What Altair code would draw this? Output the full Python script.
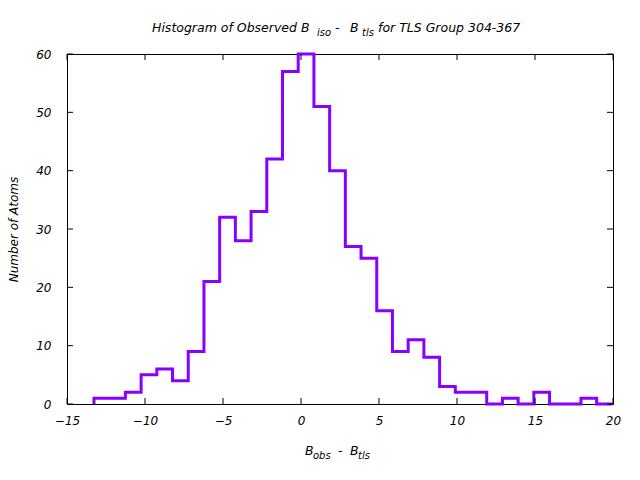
import altair as alt
import pandas as pd

# ---- data ----
bin_lo = -13.27          # left edge of first bin
bin_width = 1.007        # bin width
counts = [1, 1, 2, 5, 6, 4, 9, 21, 32, 28, 33, 42, 57, 60, 51, 40, 27, 25, 16, 9,
          11, 8, 3, 2, 2, 0, 1, 0, 2, 0, 0, 1, 0]
x_ticks = [-15, -10, -5, 0, 5, 10, 15, 20]
y_ticks = [0, 10, 20, 30, 40, 50, 60]
title_parts = ["Histogram of Observed B", "iso", "-", "B", "tls", "for TLS Group 304-367"]
xlabel_parts = ["B", "obs", "-", "B", "tls"]
ylabel = "Number of Atoms"

W, H = 546, 350
FONT = "DejaVu Sans"
VIOLET = "#8800ff"

# histogram outline (histeps) built from bins
edges = [bin_lo + i * bin_width for i in range(len(counts) + 1)]
rows = [(edges[0], 0)]
for i, c in enumerate(counts):
    rows.append((edges[i], c))
rows.append((edges[-1], counts[-1]))
rows.append((edges[-1], 0))
step_df = pd.DataFrame({"x": [r[0] for r in rows], "y": [r[1] for r in rows],
                        "o": list(range(len(rows)))})

xscale = alt.Scale(domain=[-15, 20], nice=False, zero=False)
yscale = alt.Scale(domain=[0, 60], nice=False)

axis_common = dict(labelFont=FONT, labelFontStyle="italic", labelFontSize=12,
                   labelColor="black", ticks=False, tickSize=0, domain=False,
                   grid=False, titleFont=FONT, titleFontStyle="italic",
                   titleFontSize=12, titleFontWeight="normal", titleColor="black")

line = alt.Chart(step_df).mark_line(
    interpolate="step-after", color=VIOLET, strokeWidth=3
).encode(
    x=alt.X("x:Q", scale=xscale,
            axis=alt.Axis(values=x_ticks, labelPadding=11, title=None,
                          labelFlush=False, **axis_common)),
    y=alt.Y("y:Q", scale=yscale,
            axis=alt.Axis(values=y_ticks, labelPadding=16, title=ylabel,
                          titleX=-54, titleY=H / 2, titleAngle=270,
                          titleAlign="center", titleBaseline="middle",
                          labelFlush=False, **axis_common)),
    order="o:Q",
)

xt = pd.DataFrame({"v": x_ticks})
yt = pd.DataFrame({"v": y_ticks})
tick_len = 6
bt = alt.Chart(xt).mark_rule(color="black", strokeWidth=1).encode(
    x=alt.X("v:Q", scale=xscale), y=alt.value(H), y2=alt.value(H - tick_len))
tt = alt.Chart(xt).mark_rule(color="black", strokeWidth=1).encode(
    x=alt.X("v:Q", scale=xscale), y=alt.value(0), y2=alt.value(tick_len))
lt = alt.Chart(yt).mark_rule(color="black", strokeWidth=1).encode(
    y=alt.Y("v:Q", scale=yscale), x=alt.value(0), x2=alt.value(tick_len))
rt = alt.Chart(yt).mark_rule(color="black", strokeWidth=1).encode(
    y=alt.Y("v:Q", scale=yscale), x=alt.value(W), x2=alt.value(W - tick_len))


def piece(text, x, y, size):
    return alt.Chart(alt.Data(values=[{}])).mark_text(
        font=FONT, fontStyle="italic", fontSize=size, color="black",
        align="left", baseline="alphabetic"
    ).encode(x=alt.value(x), y=alt.value(y), text=alt.value(text))


title_layers = [
    piece(title_parts[0], 85, -22, 12.5),
    piece(title_parts[1], 250, -18.5, 10),
    piece(title_parts[2], 268, -22, 12.5),
    piece(title_parts[3], 283, -22, 12.5),
    piece(title_parts[4], 295, -18.5, 10),
    piece(title_parts[5], 311, -22, 12.5),
]
xlabel_layers = [
    piece(xlabel_parts[0], 238, 401, 12.5),
    piece(xlabel_parts[1], 246, 404.5, 10),
    piece(xlabel_parts[2], 271, 401, 12.5),
    piece(xlabel_parts[3], 283, 401, 12.5),
    piece(xlabel_parts[4], 291, 404.5, 10),
]

chart = alt.layer(line, bt, tt, lt, rt, *title_layers, *xlabel_layers).properties(
    width=W, height=H,
    autosize=alt.AutoSizeParams(type="none"),
    padding={"left": 67, "top": 54, "right": 27, "bottom": 76},
    background="white",
).configure_view(stroke="black", strokeWidth=1)

chart.save("out.html", embed_options={"renderer": "svg", "actions": False})
